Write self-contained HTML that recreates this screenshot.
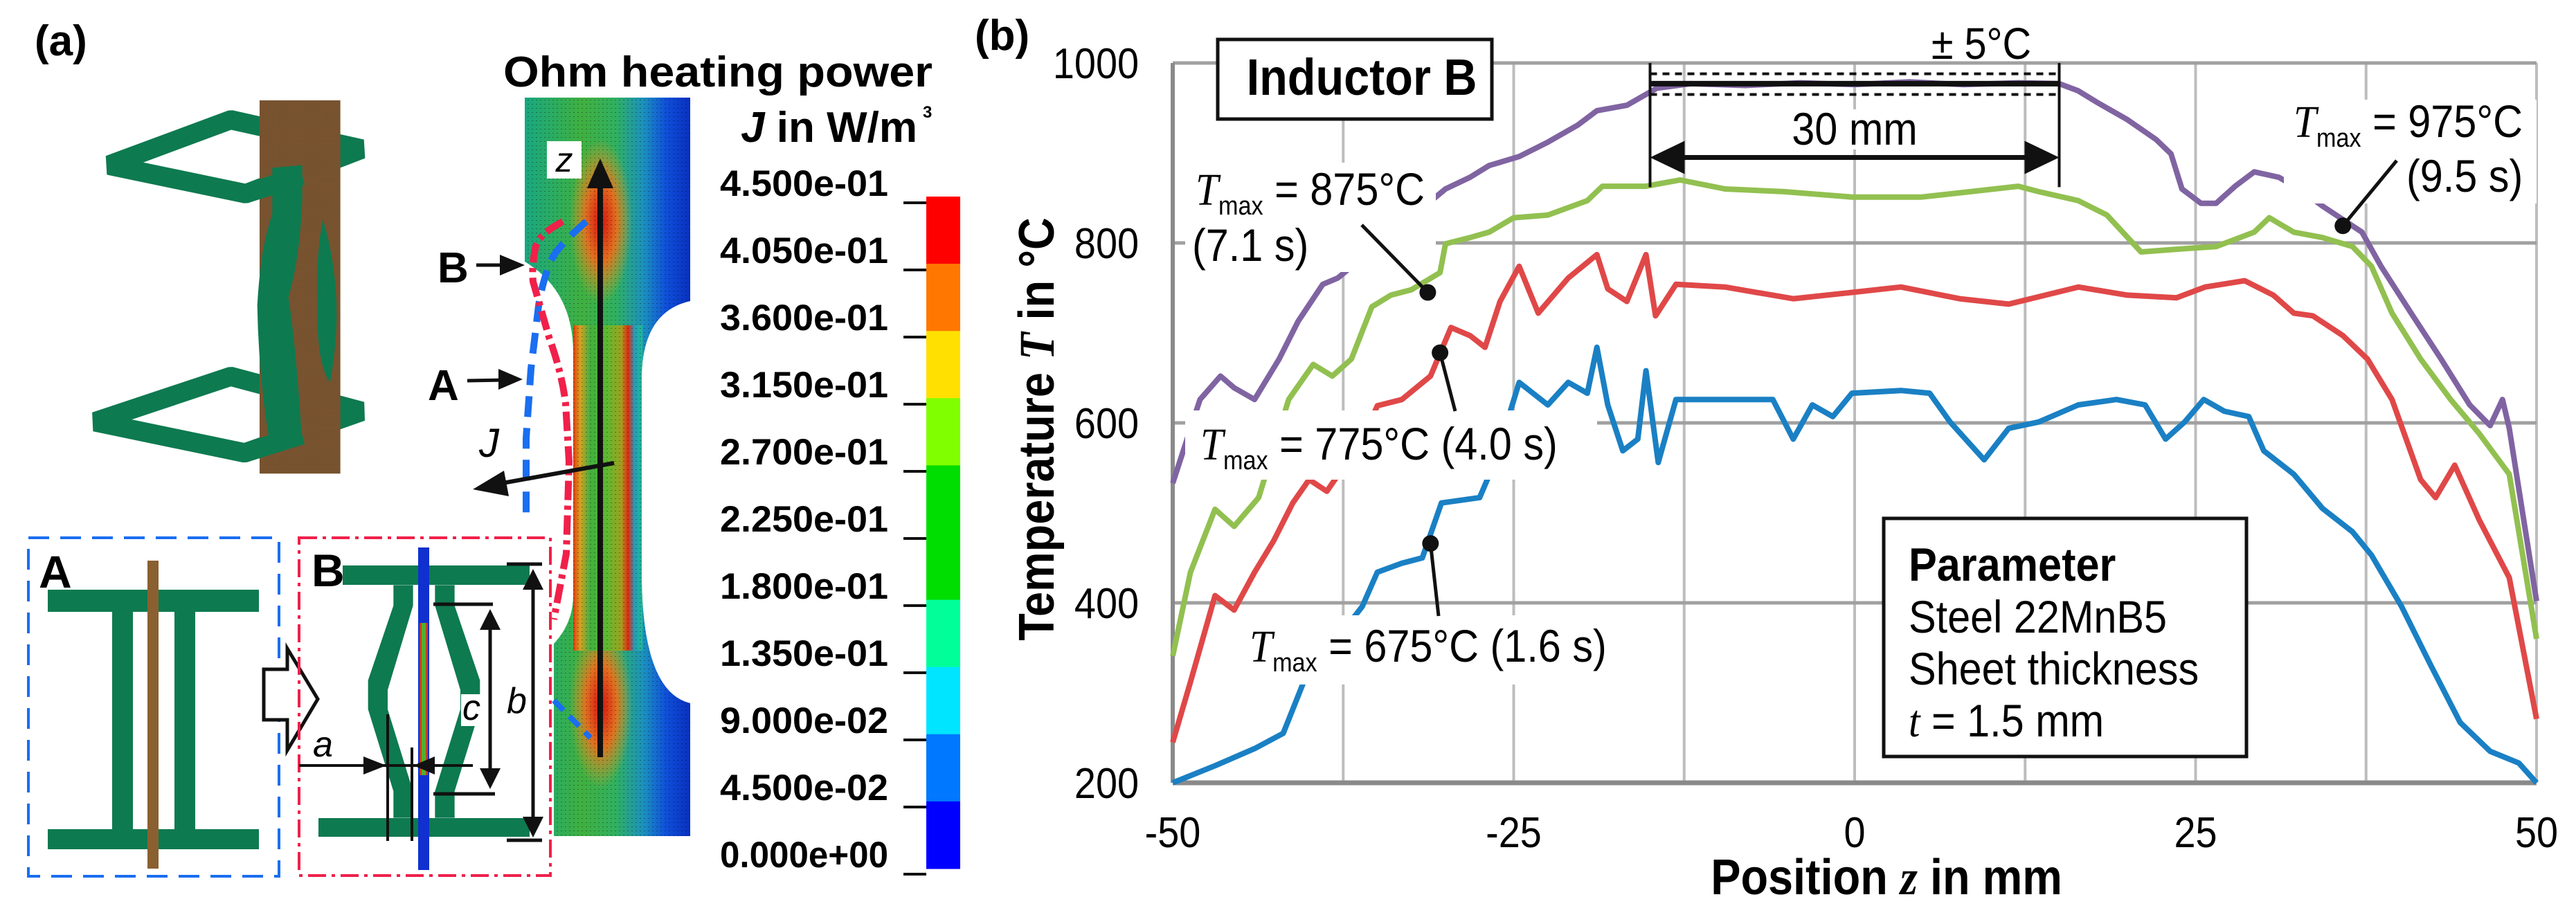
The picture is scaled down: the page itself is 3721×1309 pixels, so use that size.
<!DOCTYPE html>
<html><head><meta charset="utf-8"><style>
html,body{margin:0;padding:0;background:#fff;}
svg{display:block;}
text{font-family:"Liberation Sans",sans-serif;}
</style></head><body>
<svg id="fig" width="3721" height="1309" viewBox="0 0 3721 1309" xmlns="http://www.w3.org/2000/svg">
<defs>
  <linearGradient id="neckG" x1="828" x2="927" y1="0" y2="0" gradientUnits="userSpaceOnUse">
    <stop offset="0" stop-color="#e03a10"/><stop offset="0.1" stop-color="#d8a020"/>
    <stop offset="0.25" stop-color="#40b040"/><stop offset="0.5" stop-color="#60b830"/>
    <stop offset="0.7" stop-color="#a0a020"/><stop offset="0.8" stop-color="#e02a10"/>
    <stop offset="0.9" stop-color="#20a0c0"/><stop offset="1" stop-color="#20b890"/>
  </linearGradient>
  <linearGradient id="wideG" x1="758" x2="997" y1="0" y2="0" gradientUnits="userSpaceOnUse">
    <stop offset="0" stop-color="#18a880"/><stop offset="0.35" stop-color="#40b040"/>
    <stop offset="0.55" stop-color="#30b060"/><stop offset="0.72" stop-color="#1a90c0"/>
    <stop offset="0.85" stop-color="#1050d8"/><stop offset="1" stop-color="#0830c0"/>
  </linearGradient>
  <radialGradient id="hot"><stop offset="0" stop-color="#d81010"/><stop offset="0.5" stop-color="#e07020"/><stop offset="1" stop-color="#e0a020" stop-opacity="0"/></radialGradient>
  <clipPath id="specClip"><path d="M758,141 L997,141 L997,435 Q930,450 927,540 L927,840 Q930,1000 997,1016 L997,1208 L800,1208 L800,930 Q828,900 828,860 L828,510 Q828,420 758,378 Z"/></clipPath>
  <pattern id="mesh" width="6" height="6" patternUnits="userSpaceOnUse"><rect x="0" y="0" width="2" height="1" fill="#000" opacity="0.35"/></pattern>
</defs>

<text x="50" y="80" font-size="62" font-weight="bold">(a)</text>

<g transform="translate(100,130) scale(0.3333,0.3745)">
  <path d="M170,290 L700,115 L1270,228 L765,400 Z" fill="none" stroke="#0e7a50" stroke-width="75" stroke-linejoin="bevel"/>
  <path d="M110,1280 L700,1105 L1270,1240 L760,1400 Z" fill="none" stroke="#0e7a50" stroke-width="75" stroke-linejoin="bevel"/>
  <rect x="825" y="40" width="350" height="1440" fill="#7a5430"/>
  <rect x="825" y="40" width="350" height="1440" fill="url(#mesh)"/>
  <path d="M170,290 L765,400 L1010,330" fill="none" stroke="#0e7a50" stroke-width="75" stroke-linejoin="bevel"/>
  <path d="M110,1280 L760,1400 L1010,1330" fill="none" stroke="#0e7a50" stroke-width="75" stroke-linejoin="bevel"/>
  <path fill="#0e7a50" d="M880,300 L1010,290 L1010,420 Q1000,650 950,800 Q985,1000 1010,1370 L870,1370 Q820,1100 815,830 Q830,600 880,480 Z"/>
  <path fill="#0e7a50" d="M1100,500 Q1200,800 1130,1130 Q1070,1050 1075,820 Q1070,620 1100,500 Z"/>
</g>

<g clip-path="url(#specClip)">
  <rect x="750" y="130" width="260" height="1090" fill="url(#wideG)"/>
  <ellipse cx="868" cy="320" rx="45" ry="120" fill="url(#hot)"/>
  <ellipse cx="868" cy="1020" rx="45" ry="120" fill="url(#hot)"/>
  <rect x="828" y="470" width="100" height="470" fill="url(#neckG)"/>
  <rect x="750" y="130" width="260" height="1090" fill="url(#mesh)"/>
</g>
<line x1="867" y1="1094" x2="867" y2="262" stroke="#111" stroke-width="8"/>
<polygon points="867,229 848,272 886,272" fill="#111"/>
<rect x="790" y="204" width="50" height="54" fill="#fff"/>
<text x="815" y="248" font-size="50" font-style="italic" text-anchor="middle" font-family="Liberation Serif,serif">z</text>

<path d="M847,320 Q800,360 793,383 Q780,420 777,450 L767,533 L760,633 L760,753" fill="none" stroke="#1a6ef0" stroke-width="10" stroke-dasharray="30,16"/>
<path d="M813,320 Q775,340 773,360 Q768,385 770,407 L793,487 Q812,540 817,583 L822,667 L818,800 L800,895" fill="none" stroke="#f0204a" stroke-width="10" stroke-dasharray="28,8,6,8"/>
<path d="M800,1012 L853,1066" fill="none" stroke="#1a6ef0" stroke-width="8" stroke-dasharray="20,12"/>
<text x="632" y="408" font-size="62" font-weight="bold">B</text>
<line x1="688" y1="383" x2="735" y2="383" stroke="#111" stroke-width="5"/><polygon points="758,383 722,368 722,398" fill="#111"/>
<text x="618" y="578" font-size="62" font-weight="bold">A</text>
<line x1="675" y1="550" x2="732" y2="549" stroke="#111" stroke-width="5"/><polygon points="755,548 720,533 720,563" fill="#111"/>
<text x="692" y="660" font-size="58" font-style="italic" font-family="Liberation Serif,serif">J</text>
<line x1="887" y1="669" x2="715" y2="700" stroke="#111" stroke-width="6"/>
<polygon points="683,707 728,680 735,717" fill="#111"/>

<g>
  <rect x="41" y="777" width="362" height="489" fill="none" stroke="#1a6ef0" stroke-width="4" stroke-dasharray="30,16"/>
  <rect x="69" y="852" width="305" height="32" fill="#0e7a50"/>
  <rect x="69" y="1198" width="305" height="29" fill="#0e7a50"/>
  <rect x="162" y="884" width="30" height="314" fill="#0e7a50"/>
  <rect x="252" y="884" width="30" height="314" fill="#0e7a50"/>
  <rect x="213" y="810" width="16" height="445" fill="#8a6030"/>
  <text x="56" y="849" font-size="66" font-weight="bold">A</text>
</g>
<polygon points="381,967 415,967 415,937 459,1010 415,1084 415,1040 381,1040" fill="#fff" stroke="#111" stroke-width="5"/>

<g>
  <rect x="432" y="777" width="363" height="488" fill="none" stroke="#f0204a" stroke-width="4" stroke-dasharray="26,8,5,8"/>
  <rect x="495" y="817" width="270" height="28" fill="#0e7a50"/>
  <rect x="460" y="1182" width="305" height="27" fill="#0e7a50"/>
  <g transform="translate(400,760) scale(0.3333,0.3484)" fill="#0e7a50">
    <path d="M505,245 L590,245 L590,330 L480,680 L480,760 L590,1100 L590,1210 L505,1210 L505,1100 L395,760 L395,640 L505,330 Z"/>
    <path d="M685,245 L770,245 L770,330 L880,640 L880,760 L770,1100 L770,1210 L685,1210 L685,1100 L795,760 L795,680 L685,330 Z"/>
  </g>
  <rect x="604" y="791" width="16" height="466" fill="#1030d0"/>
  <rect x="606" y="900" width="12" height="220" fill="#c04020"/>
  <rect x="609" y="900" width="6" height="220" fill="#50b030"/>
  <text x="450" y="847" font-size="66" font-weight="bold">B</text>
  <line x1="732" y1="815" x2="783" y2="815" stroke="#111" stroke-width="5"/>
  <line x1="732" y1="1214" x2="783" y2="1214" stroke="#111" stroke-width="5"/>
  <line x1="770" y1="840" x2="770" y2="1190" stroke="#111" stroke-width="5"/>
  <polygon points="770,822 755,852 785,852" fill="#111"/><polygon points="770,1210 755,1180 785,1180" fill="#111"/>
  <line x1="626" y1="873" x2="712" y2="873" stroke="#111" stroke-width="5"/>
  <line x1="626" y1="1147" x2="715" y2="1147" stroke="#111" stroke-width="5"/>
  <line x1="708" y1="895" x2="708" y2="1125" stroke="#111" stroke-width="5"/>
  <polygon points="708,880 693,910 723,910" fill="#111"/><polygon points="708,1140 693,1110 723,1110" fill="#111"/>
  <rect x="666" y="1003" width="28" height="46" fill="#fff"/>
  <text x="668" y="1040" font-size="52" font-style="italic" font-family="Liberation Serif,serif">c</text>
  <text x="732" y="1030" font-size="52" font-style="italic" font-family="Liberation Serif,serif">b</text>
  <text x="452" y="1093" font-size="52" font-style="italic" font-family="Liberation Serif,serif">a</text>
  <line x1="560" y1="1032" x2="560" y2="1215" stroke="#111" stroke-width="4"/>
  <line x1="595" y1="1080" x2="595" y2="1215" stroke="#111" stroke-width="4"/>
  <line x1="432" y1="1106" x2="683" y2="1106" stroke="#111" stroke-width="4"/>
  <polygon points="558,1106 525,1093 525,1119" fill="#111"/><polygon points="597,1106 628,1093 628,1119" fill="#111"/>
</g>

<text x="1347" y="125" font-size="62" font-weight="bold" text-anchor="end" textLength="620" lengthAdjust="spacingAndGlyphs">Ohm heating power</text>
<text x="1325" y="205" font-size="62" font-weight="bold" text-anchor="end"><tspan font-style="italic">J</tspan> in W/m</text>
<text x="1333" y="170" font-size="24" font-weight="bold">3</text>
<g id="colorbar"></g>

<text x="1408" y="72" font-size="62" font-weight="bold">(b)</text>
<g id="chart"></g>
</svg>
<script>
const cbLabels = ["4.500e-01","4.050e-01","3.600e-01","3.150e-01","2.700e-01","2.250e-01","1.800e-01","1.350e-01","9.000e-02","4.500e-02","0.000e+00"];
const cbColors = ["#ff0000","#ff7700","#ffe000","#80ff00","#00dd00","#00dd00","#00ff99","#00e5ff","#0078ff","#0000ff"];

const xTicks = [-50,-25,0,25,50];
const yTicks = [200,400,600,800,1000];
const purpleZ = [-50,-48,-46.5,-45.5,-44,-42.2,-40.8,-39,-37.9,-30,-28.2,-26.8,-24.6,-22.5,-20.3,-18.9,-16.7,-14.5,-12,-8,-4,0,4,8,12,15,16.4,17.8,20,22.1,23.2,24,25.4,26.5,27.9,29.3,31.1,32.9,34.3,37.2,38.6,40.8,43,45.1,46.6,47.5,48,50];
const purpleT = [533,626,652,639,626,671,713,754,761,860,873,886,896,912,931,947,953,972,977,975,978,976,979,976,978,977,969,956,937,915,899,860,844,844,863,879,873,857,841,812,774,722,671,620,597,626,594,402];
const greenZ = [-50,-48.7,-46.9,-45.5,-43.7,-41.5,-39.7,-38.3,-36.9,-35.4,-34,-32.5,-30.4,-30,-28.2,-26.8,-25,-22.5,-19.6,-18.5,-15.3,-12.8,-9.5,-5.2,-0.2,4.9,8.5,12,13.5,16.4,18.5,21,23.6,26.5,29.3,30.4,32.2,34.3,36.5,37.9,39.4,41.5,43.7,45.8,48,50];
const greenT = [341,434,504,485,517,626,665,652,671,729,742,748,767,799,806,812,828,831,847,863,863,870,860,857,851,851,857,863,857,847,831,790,793,796,812,828,812,806,796,774,722,671,626,588,543,360];
const redZ = [-50,-48.7,-46.9,-45.5,-44,-42.6,-41.2,-40,-38.7,-36.1,-35,-33.2,-31.1,-29.6,-28.2,-27.1,-26,-24.6,-23.2,-21,-18.9,-18.1,-16.7,-15.3,-14.6,-13.1,-9.5,-4.5,-0.2,3.4,7.7,11.3,16.4,20,23.6,25.7,28.6,30.7,32.2,33.6,35.8,37.6,39.4,41.5,42.6,44,45.8,48,50];
const redT = [245,312,408,392,434,469,511,537,524,581,619,626,652,706,697,684,735,774,722,761,787,749,735,787,719,754,751,738,745,751,738,732,751,742,739,751,758,742,722,719,697,671,626,537,517,553,492,428,271];
const blueZ = [-50,-46.9,-44,-41.9,-40.4,-36.1,-35,-33.2,-31.7,-30.3,-27.5,-26.4,-24.6,-22.5,-21,-19.6,-18.9,-18.1,-17,-15.9,-15.3,-14.4,-13.1,-9.5,-6,-4.5,-3.1,-1.6,-0.2,3.4,5.5,7,9.5,11.3,13.5,16.4,19.2,21.3,22.8,24.2,25.6,27.1,28.9,30,32.2,34.3,36.5,37.9,40.1,42.2,44.4,46.6,48.7,50];
const blueT = [200,219,238,255,312,396,434,444,450,511,517,556,645,620,645,633,684,620,569,582,658,556,626,626,626,582,620,607,633,636,633,601,559,594,601,620,626,620,582,601,626,613,607,569,543,505,479,453,396,332,267,235,222,200];

const NS = "http://www.w3.org/2000/svg";
function mk(parent, tag, attrs, txt){
  const e = document.createElementNS(NS, tag);
  for (const k in attrs) e.setAttribute(k, attrs[k]);
  if (txt !== undefined) e.textContent = txt;
  parent.appendChild(e); return e;
}
const SX = 0.9;
function N(parent, x, y, size, html, extra){
  const a = Object.assign({x:(x/SX).toFixed(1), y:y, 'font-size':size, transform:`scale(${SX},1)`}, extra||{});
  const t = mk(parent,'text',a);
  t.innerHTML = html;
  return t;
}

const cb = document.getElementById('colorbar');
const cbTop = 284, cbStep = 97.1;
cbColors.forEach((c,i)=>{
  const r = mk(cb,'rect',{x:1338,y:cbTop+i*cbStep,width:49,height:cbStep+0.5,fill:c});
  
  
});
cbLabels.forEach((l,i)=>{
  const ty = 293 + i*97;
  const tk = mk(cb,'line',{x1:1305,x2:1338,y1:ty,y2:ty,stroke:'#111','stroke-width':4});
  
  
  const t = mk(cb,'text',{x:1283,y:ty-10,'font-size':53,'font-weight':'bold','text-anchor':'end',textLength:243,lengthAdjust:'spacingAndGlyphs'},l);
  
  
});

const g = document.getElementById('chart');
const X = z => 1694 + (z+50)*19.7;
const Y = T => 91 + (1000-T)*1.3;

for (let z=-50; z<=50; z+=12.5){
  const l = mk(g,'line',{x1:X(z),x2:X(z),y1:Y(1000),y2:Y(200),stroke:'#bdbdbd','stroke-width':4});
  
  
}
yTicks.forEach(v=>{
  const l = mk(g,'line',{x1:X(-50),x2:X(50),y1:Y(v),y2:Y(v),stroke:'#a0a0a0','stroke-width':5});
  
  
  const t = N(g,1645,Y(v)+22,62,String(v),{'text-anchor':'end'});
  
  
});
mk(g,'line',{x1:X(-50),x2:X(-50),y1:Y(1000),y2:Y(200),stroke:'#8a8a8a','stroke-width':6});
mk(g,'line',{x1:X(-50),x2:X(50),y1:Y(200),y2:Y(200),stroke:'#8a8a8a','stroke-width':7});
xTicks.forEach(v=>{
  const t = N(g,X(v),1224,62,String(v),{'text-anchor':'middle'});
  
  
});
const xt = N(g,2725,1292,72,'Position <tspan font-style="italic" font-family="Liberation Serif,serif">z</tspan> in mm',{'text-anchor':'middle','font-weight':'bold'});


const yt = mk(g,'text',{x:0,y:0,'font-size':72,'font-weight':'bold','text-anchor':'middle',transform:`translate(1522,620) rotate(-90) scale(${SX},1)`});
yt.innerHTML = 'Temperature <tspan font-style="italic" font-family="Liberation Serif,serif">T</tspan> in °C';



function series(zs, ts, color, name){
  const d = zs.map((z,i)=>(i?'L':'M')+X(z).toFixed(1)+','+Y(ts[i]).toFixed(1)).join(' ');
  const p = mk(g,'path',{d:d,fill:'none',stroke:color,'stroke-width':8,'stroke-linejoin':'round'});
  
  
}
series(blueZ, blueT, '#1a80c4', 'series-tmax-675');
series(redZ, redT, '#e04848', 'series-tmax-775');
series(greenZ, greenT, '#92c050', 'series-tmax-875');
series(purpleZ, purpleT, '#8064a2', 'series-tmax-975');

[[1712,235,362,158],[1712,593,595,100],[1790,889,560,100],[3299,144,365,150]].forEach(b=>{
  const r = mk(g,'rect',{x:b[0],y:b[1],width:b[2],height:b[3],fill:'#fff'});
  
  
});

mk(g,'rect',{x:2585,y:158,width:200,height:58,fill:'#fff'});
mk(g,'line',{x1:X(-15),x2:X(-15),y1:Y(1000),y2:Y(862),stroke:'#111','stroke-width':4});
mk(g,'line',{x1:X(15),x2:X(15),y1:Y(1000),y2:Y(862),stroke:'#111','stroke-width':4});
const tl = mk(g,'line',{x1:X(-15),x2:X(15),y1:Y(977),y2:Y(977),stroke:'#111','stroke-width':8});


[988,965].forEach(v=>{
  const l = mk(g,'line',{x1:X(-15),x2:X(15),y1:Y(v),y2:Y(v),stroke:'#111','stroke-width':4,'stroke-dasharray':'10,8'});
  
  
});
const da = mk(g,'line',{x1:X(-15)+45,x2:X(15)-45,y1:Y(895),y2:Y(895),stroke:'#111','stroke-width':7});


mk(g,'polygon',{points:`${X(-15)},${Y(895)} ${X(-15)+50},${Y(895)-24} ${X(-15)+50},${Y(895)+24}`,fill:'#111'});
mk(g,'polygon',{points:`${X(15)},${Y(895)} ${X(15)-50},${Y(895)-24} ${X(15)-50},${Y(895)+24}`,fill:'#111'});
const t30 = N(g,X(0),209,66,'30 mm',{'text-anchor':'middle'});


const tpm = N(g,2862,85,64,'± 5°C',{'text-anchor':'middle'});



function tmax(x, y, val, extra, name){
  const t = N(g,x,y,66,'<tspan font-family="Liberation Serif,serif" font-style="italic">T</tspan><tspan font-size="38" dy="14">max</tspan><tspan dy="-14"> = '+val+'°C'+extra+'</tspan>');
  
  
}
function dot(z,T,x2,y2){
  mk(g,'line',{x1:X(z),y1:Y(T),x2:x2,y2:y2,stroke:'#111','stroke-width':5});
  const c = mk(g,'circle',{cx:X(z),cy:Y(T),r:12,fill:'#111'});
  
  
}
tmax(1727,296,'875','', 'tmax-875-label');
N(g,1722,377,66,'(7.1 s)');
dot(-31.3,745,1967,325);
tmax(1734,664,'775',' (4.0 s)','tmax-775-label');
dot(-30.4,678,2102,594);
tmax(1805,956,'675',' (1.6 s)','tmax-675-label');
dot(-31.1,466,2078,890);
tmax(3313,198,'975','','tmax-975-label');
N(g,3476,277,66,'(9.5 s)');
dot(35.8,819,3462,232);

const ib = mk(g,'rect',{x:1759,y:57,width:396,height:115,fill:'#fff',stroke:'#111','stroke-width':5});


const ibt = N(g,1967,137,74,'Inductor B',{'text-anchor':'middle','font-weight':'bold'});



const pb = mk(g,'rect',{x:2721,y:749,width:524,height:344,fill:'#fff',stroke:'#111','stroke-width':5});


N(g,2757,839,68,'Parameter',{'font-weight':'bold'});
N(g,2757,914,66,'Steel 22MnB5');
N(g,2757,989,66,'Sheet thickness');
N(g,2757,1064,66,'<tspan font-style="italic" font-family="Liberation Serif,serif">t</tspan> = 1.5 mm');
</script>
</body></html>
